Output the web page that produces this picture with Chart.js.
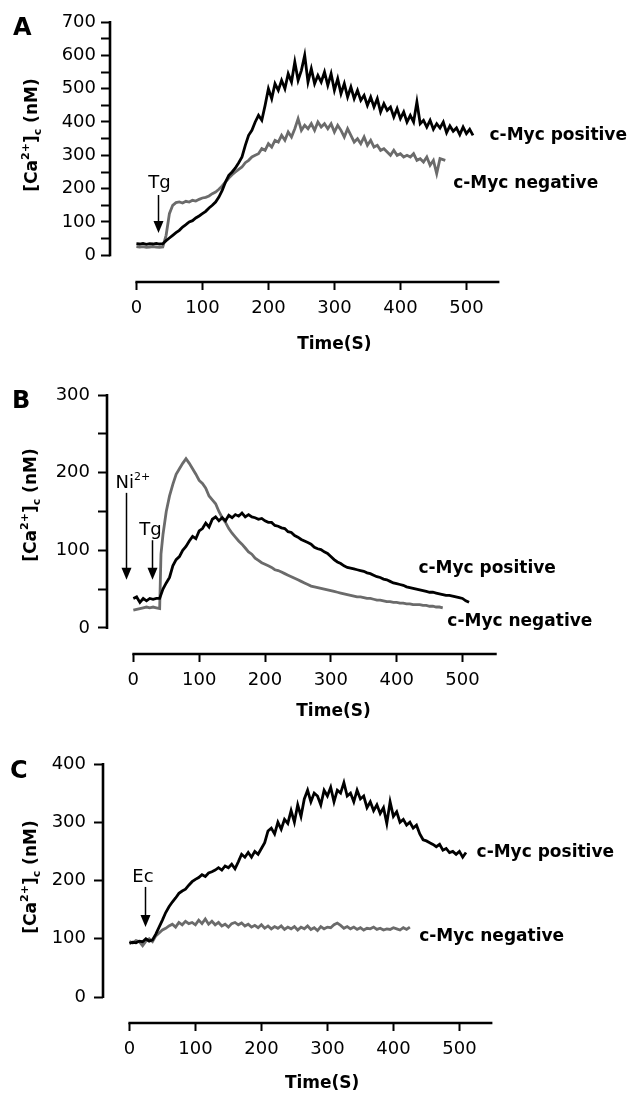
<!DOCTYPE html>
<html><head><meta charset="utf-8">
<script src="https://cdn.jsdelivr.net/npm/chart.js@4.4.0/dist/chart.umd.min.js"></script>
<style>
html,body{margin:0;padding:0;background:#fff;}
#wrap{position:relative;width:639px;height:1095px;overflow:hidden;background:#fff;}
canvas{position:absolute;left:0;}
</style></head><body>
<div id="wrap">
<canvas id="cA" width="639" height="360" style="top:0px"></canvas>
<canvas id="cB" width="639" height="365" style="top:360px"></canvas>
<canvas id="cC" width="639" height="370" style="top:725px"></canvas>
</div>
<script>
// ---------------- DATA ----------------
const seriesNames = ['c-Myc positive', 'c-Myc negative'];
const xTickValues = [0, 100, 200, 300, 400, 500];
const yTicksA = [0, 50, 100, 150, 200, 250, 300, 350, 400, 450, 500, 550, 600, 650, 700];
const yTicksB = [0, 50, 100, 150, 200, 250, 300];
const yTicksC = [0, 100, 200, 300, 400];

// Panel A (Tg)
const timeA_pos = [0,5,10,15,20,25,30,35,40,45,
  50,55,60,65,70,75,80,85,90,95,
  100,105,110,115,120,125,130,135,140,145,
  150,155,160,165,170,175,180,185,190,195,
  200,205,210,215,220,225,230,235,240,245,
  250,255,260,265,270,275,280,285,290,295,
  300,305,310,315,320,325,330,335,340,345,
  350,355,360,365,370,375,380,385,390,395,
  400,405,410,415,420,425,430,435,440,445,
  450,455,460,465,470,475,480,485,490,495,
  500,505,510];
const caA_pos = [35,34,36,33,35,34,36,34,35,44,
  52,60,68,75,85,92,100,104,112,118,
  125,132,142,150,160,175,195,220,240,250,
  262,278,295,330,360,375,400,420,405,450,
  500,470,515,495,525,500,545,520,580,525,
  555,600,520,560,515,540,520,550,510,545,
  495,530,485,515,475,505,470,495,465,480,
  450,475,445,470,430,455,435,445,415,440,
  410,430,400,420,400,460,395,405,385,405,
  378,395,382,400,368,388,372,382,362,385,
  365,378,360];
const timeA_neg = [0,5,10,15,20,25,30,35,40,45,
  50,55,60,65,70,75,80,85,90,95,
  100,105,110,115,120,125,130,135,140,145,
  150,155,160,165,170,175,180,185,190,195,
  200,205,210,215,220,225,230,235,240,245,
  250,255,260,265,270,275,280,285,290,295,
  300,305,310,315,320,325,330,335,340,345,
  350,355,360,365,370,375,380,385,390,395,
  400,405,410,415,420,425,430,435,440,445,
  450,455,460,468];
const caA_neg = [26,25,26,24,25,26,25,24,25,60,
  125,150,158,160,157,162,160,165,163,168,
  172,174,178,185,190,198,208,220,232,242,
  250,258,265,278,285,295,300,305,320,315,
  335,325,345,340,360,345,370,355,380,410,
  375,390,380,395,375,400,385,395,380,395,
  370,390,375,355,380,360,340,350,335,355,
  330,345,325,330,315,320,310,300,315,300,
  305,295,300,295,305,285,290,280,295,270,
  285,245,290,285];

// Panel B (Ni2+, Tg)
const timeB_pos = timeA_pos.slice();
const caB_pos = [38,40,33,38,35,38,37,38,38,50,
  58,65,80,88,92,100,105,112,118,115,
  125,128,135,130,140,143,138,142,138,145,
  142,146,144,148,143,146,143,142,140,141,
  138,136,136,132,131,129,128,124,123,119,
  117,114,112,110,108,104,102,101,98,96,
  92,88,85,83,80,78,77,76,75,74,
  73,71,70,68,66,65,63,62,60,58,
  57,56,55,53,52,51,50,49,48,47,
  46,46,45,44,43,42,42,41,40,39,
  38,35,33];
const timeB_neg = [0,5,10,15,20,25,30,35,40,42,
  45,50,55,60,65,70,75,80,85,90,
  95,100,105,110,115,120,125,130,135,140,
  145,150,155,160,165,170,175,180,185,190,
  195,200,205,210,215,220,225,230,235,240,
  245,250,255,260,265,270,275,280,285,290,
  295,300,305,310,315,320,325,330,335,340,
  345,350,355,360,365,370,375,380,385,390,
  395,400,405,410,415,420,425,430,435,440,
  445,450,455,460,465,470];
const caB_neg = [23,24,25,26,27,26,27,26,25,95,
  120,150,170,185,198,205,212,218,212,205,
  198,190,186,180,170,165,160,150,142,136,
  128,122,117,112,108,103,98,95,90,87,
  84,82,80,78,75,74,72,70,68,66,
  64,62,60,58,56,54,53,52,51,50,
  49,48,47,46,45,44,43,42,41,40,
  40,39,38,38,37,36,36,35,34,34,
  33,33,32,32,31,31,30,30,30,29,
  29,28,28,27,27,26];

// Panel C (Ec)
const timeC_pos = timeA_pos.slice();
const caC_pos = [92,94,93,96,95,100,96,98,108,120,
  132,145,155,163,170,178,182,185,192,198,
  202,205,210,207,213,215,218,222,218,225,
  222,228,220,232,245,240,248,240,250,245,
  255,265,285,290,280,300,288,305,298,320,
  300,330,310,340,355,335,350,345,330,355,
  345,360,335,355,350,368,345,350,335,355,
  340,345,325,335,320,330,315,325,298,335,
  310,318,300,305,295,300,290,295,280,270,
  268,265,262,258,262,252,255,248,250,245,
  250,240,248];
const timeC_neg = [0,5,10,15,20,25,30,35,40,45,
  50,55,60,65,70,75,80,85,90,95,
  100,105,110,115,120,125,130,135,140,145,
  150,155,160,165,170,175,180,185,190,195,
  200,205,210,215,220,225,230,235,240,245,
  250,255,260,265,270,275,280,285,290,295,
  300,305,310,315,320,325,330,335,340,345,
  350,355,360,365,370,375,380,385,390,395,
  400,405,410,415,420,425];
const caC_neg = [95,93,97,95,88,96,100,95,105,110,
  115,118,122,125,120,128,124,130,126,128,
  124,132,126,134,125,130,124,128,122,125,
  120,126,128,124,127,122,125,120,123,119,
  124,118,122,117,121,118,122,116,120,117,
  121,115,120,117,122,116,119,114,121,117,
  120,119,124,127,123,118,121,117,120,116,
  119,115,118,117,120,116,118,115,117,116,
  119,117,115,119,116,120];

// ---------------- RENDERING ----------------
const FAM = "'DejaVu Sans', sans-serif";
Chart.defaults.font.family = FAM;
Chart.defaults.font.size = 18;
Chart.defaults.color = '#000';
Chart.defaults.animation = false;

const BLACK = '#000000';
const GRAY = '#6b6b6b';

function pts(t, v) { return t.map((x, i) => ({ x: x, y: v[i] })); }

function drawParts(ctx, x, y, parts) {
  let cx = x;
  parts.forEach(p => {
    ctx.font = (p.bold ? 'bold ' : '') + p.size + 'px ' + FAM;
    ctx.fillText(p.t, cx, y + (p.dy || 0));
    cx += ctx.measureText(p.t).width;
  });
  return cx - x;
}
function partsWidth(ctx, parts) {
  let w = 0;
  parts.forEach(p => {
    ctx.font = (p.bold ? 'bold ' : '') + p.size + 'px ' + FAM;
    w += ctx.measureText(p.t).width;
  });
  return w;
}

const yTitleParts = [
  { t: '[Ca', size: 17, bold: true },
  { t: '2+', size: 11, bold: true, dy: -8 },
  { t: ']', size: 17, bold: true },
  { t: 'c', size: 11, bold: true, dy: 4 },
  { t: ' (nM)', size: 17, bold: true }
];

function makePanel(cfg) {
  const H = cfg.H;
  const deco = {
    id: 'deco' + cfg.letter,
    afterDraw(chart) {
      const ctx = chart.ctx, xs = chart.scales.x, ys = chart.scales.y, ca = chart.chartArea;
      const X = v => xs.getPixelForValue(v), Y = v => ys.getPixelForValue(v);
      ctx.save();
      ctx.fillStyle = '#000';
      ctx.strokeStyle = '#000';
      // axis lines (offset style)
      ctx.lineWidth = 2.6;
      ctx.beginPath(); ctx.moveTo(ca.left, Y(0) + 1); ctx.lineTo(ca.left, Y(cfg.yMax) - 1); ctx.stroke();
      ctx.beginPath(); ctx.moveTo(X(0) - 1, ca.bottom); ctx.lineTo(X(cfg.xEnd), ca.bottom); ctx.stroke();
      ctx.textBaseline = 'alphabetic';
      ctx.textAlign = 'left';
      // panel letter
      ctx.font = 'bold 24px ' + FAM;
      ctx.fillText(cfg.letter, cfg.letterX, cfg.letterY);
      // y title
      ctx.save();
      ctx.translate(cfg.titleX, cfg.titleY);
      ctx.rotate(-Math.PI / 2);
      const w = partsWidth(ctx, yTitleParts);
      drawParts(ctx, -w / 2, 0, yTitleParts);
      ctx.restore();
      // x title
      ctx.font = 'bold 17px ' + FAM;
      ctx.textAlign = 'center';
      ctx.fillText('Time(S)', X(cfg.xTitleT), cfg.xTitleY);
      ctx.textAlign = 'left';
      // series labels
      ctx.font = 'bold 17px ' + FAM;
      cfg.seriesLabels.forEach((s, i) => ctx.fillText(seriesNames[i], X(s[0]), Y(s[1])));
      // annotations
      cfg.notes.forEach(n => {
        drawParts(ctx, X(n.tx), Y(n.ty), n.parts);
        const ax = Math.round(X(n.ax)) + 0.5, top = Y(n.top), tip = Y(n.tip);
        ctx.lineWidth = 1.5;
        ctx.beginPath(); ctx.moveTo(ax, top); ctx.lineTo(ax, tip - 10); ctx.stroke();
        ctx.beginPath(); ctx.moveTo(ax - 5, tip - 12); ctx.lineTo(ax + 5, tip - 12); ctx.lineTo(ax, tip); ctx.closePath(); ctx.fill();
      });
      ctx.restore();
    }
  };
  return new Chart(document.getElementById(cfg.id), {
    type: 'line',
    data: {
      datasets: [
        { label: seriesNames[0], data: pts(cfg.tPos, cfg.vPos), borderColor: BLACK, borderWidth: 2.8, pointRadius: 0, tension: 0, fill: false },
        { label: seriesNames[1], data: pts(cfg.tNeg, cfg.vNeg), borderColor: GRAY, borderWidth: 2.8, pointRadius: 0, tension: 0, fill: false }
      ]
    },
    options: {
      responsive: false,
      devicePixelRatio: 1,
      animation: false,
      layout: { padding: { left: 0, top: cfg.padTop, right: cfg.padRight, bottom: 0 } },
      plugins: { legend: { display: false }, tooltip: { enabled: false } },
      scales: {
        x: {
          type: 'linear', min: -40, max: 560,
          border: { display: false },
          grid: { display: true, drawOnChartArea: false, drawTicks: true, tickLength: 8, tickWidth: 2, tickColor: '#000', color: '#000' },
          ticks: { autoSkip: false, maxRotation: 0, padding: cfg.xPad, font: { size: 18 }, color: '#000' },
          afterBuildTicks: s => { s.ticks = xTickValues.map(v => ({ value: v })); },
          afterFit: s => { s.height = H - cfg.bottom; }
        },
        y: {
          type: 'linear', min: cfg.yMin, max: cfg.yMax,
          border: { display: false },
          grid: { display: true, drawOnChartArea: false, drawTicks: true, tickLength: 9, tickWidth: 2, tickColor: '#000', color: '#000' },
          ticks: { autoSkip: false, padding: cfg.yPad, font: { size: 18 }, color: '#000',
                   callback: v => (v % 100 === 0 ? String(v) : '') },
          afterBuildTicks: s => { s.ticks = cfg.yTicks.map(v => ({ value: v })); },
          afterFit: s => { s.width = cfg.left; }
        }
      }
    },
    plugins: [deco]
  });
}

makePanel({
  id: 'cA', H: 360, left: 110, padTop: 22, padRight: 133, bottom: 282,
  yMin: -80, yMax: 700, yTicks: yTicksA, xEnd: 550, xPad: 8, yPad: 5,
  letter: 'A', letterX: 13, letterY: 35, titleX: 37, titleY: 135, xTitleT: 300, xTitleY: 349,
  tPos: timeA_pos, vPos: caA_pos, tNeg: timeA_neg, vNeg: caA_neg,
  seriesLabels: [[535, 346], [480, 202]],
  notes: [ { parts: [{ t: 'Tg', size: 18 }], tx: 18, ty: 202, ax: 32, top: 181, tip: 67 } ]
});
makePanel({
  id: 'cB', H: 365, left: 107, padTop: 35, padRight: 137, bottom: 294,
  yMin: -33.5, yMax: 300, yTicks: yTicksB, xEnd: 552, xPad: 8, yPad: 8,
  letter: 'B', letterX: 12, letterY: 48, titleX: 36, titleY: 145, xTitleT: 304, xTitleY: 356,
  tPos: timeB_pos, vPos: caB_pos, tNeg: timeB_neg, vNeg: caB_neg,
  seriesLabels: [[433, 71], [477, 3]],
  notes: [
    { parts: [{ t: 'Ni', size: 18 }, { t: '2+', size: 11, dy: -8 }], tx: -27, ty: 180, ax: -11, top: 174, tip: 62 },
    { parts: [{ t: 'Tg', size: 18 }], tx: 9, ty: 120, ax: 29, top: 113, tip: 62 }
  ]
});
makePanel({
  id: 'cC', H: 370, left: 103, padTop: 39, padRight: 140, bottom: 298,
  yMin: -44.6, yMax: 400, yTicks: yTicksC, xEnd: 550, xPad: 8, yPad: 8,
  letter: 'C', letterX: 10, letterY: 53, titleX: 36, titleY: 152, xTitleT: 292, xTitleY: 363,
  tPos: timeC_pos, vPos: caC_pos, tNeg: timeC_neg, vNeg: caC_neg,
  seriesLabels: [[526, 240], [439, 96]],
  notes: [ { parts: [{ t: 'Ec', size: 18 }], tx: 4.5, ty: 197, ax: 23, top: 189, tip: 120 } ]
});
</script>
</body></html>
